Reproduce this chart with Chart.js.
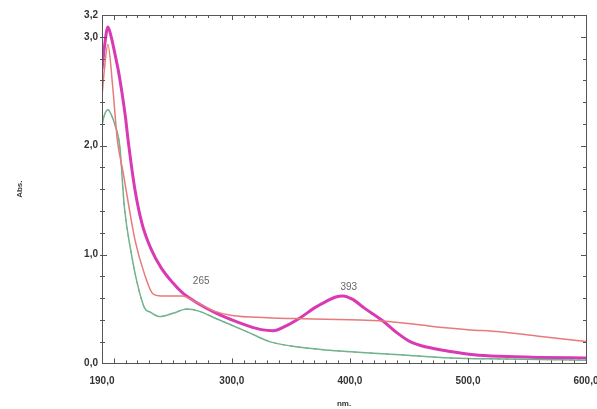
<!DOCTYPE html>
<html>
<head>
<meta charset="utf-8">
<script src="https://cdn.jsdelivr.net/npm/chart.js@4.4.1/dist/chart.umd.min.js"></script>
<style>
html,body{margin:0;padding:0;background:#fff;}
#wrap{width:597px;height:409px;position:relative;}
</style>
</head>
<body>
<div id="wrap"><canvas id="c" width="597" height="409"></canvas></div>
<script>
// wavelengths (nm) and absorbance values
const magentaNm  = [190, 192, 195, 198, 201, 204, 207, 210, 212, 218, 224, 232, 240, 250, 258, 270, 287, 300, 315, 325, 335, 345, 358, 370, 380, 388, 394, 402, 412, 428, 440, 451, 465, 485, 505, 527, 560, 600];
const magentaAbs = [2.70, 2.90, 3.09, 2.99, 2.84, 2.68, 2.48, 2.25, 2.06, 1.59, 1.28, 1.04, 0.88, 0.74, 0.65, 0.56, 0.46, 0.40, 0.34, 0.31, 0.30, 0.34, 0.42, 0.51, 0.57, 0.61, 0.62, 0.59, 0.51, 0.39, 0.28, 0.20, 0.15, 0.11, 0.08, 0.065, 0.055, 0.05];

const redNm  = [190, 192, 195, 199, 203, 208, 212, 218, 226, 233, 240, 258, 270, 285, 300, 330, 360, 400, 428, 470, 500, 527, 560, 600];
const redAbs = [2.45, 2.70, 2.93, 2.55, 2.05, 1.75, 1.49, 1.13, 0.82, 0.64, 0.62, 0.62, 0.56, 0.48, 0.44, 0.42, 0.41, 0.40, 0.39, 0.34, 0.31, 0.29, 0.25, 0.20];

const greenNm  = [190, 192, 195, 198, 201, 205, 209, 215, 220, 226, 231, 239, 250, 262, 272, 287, 300, 315, 332, 350, 383, 410, 442, 485, 530, 600];
const greenAbs = [2.19, 2.28, 2.33, 2.28, 2.19, 2.00, 1.43, 1.00, 0.73, 0.51, 0.47, 0.43, 0.46, 0.50, 0.48, 0.41, 0.35, 0.28, 0.20, 0.16, 0.12, 0.10, 0.08, 0.05, 0.04, 0.03];

const xMajorTicks = [190, 300, 400, 500, 600];
const xLabels = ['190,0', '300,0', '400,0', '500,0', '600,0'];
const yLabelValues = [0, 1, 2, 3, 3.2];
const yLabels = ['0,0', '1,0', '2,0', '3,0', '3,2'];
const peakLabels = [{nm: 274, abs: 0.75, text: '265'}, {nm: 399, abs: 0.70, text: '393'}];

function pts(xs, ys){ return xs.map((x,i)=>({x:x, y:ys[i]})); }

const frameColor = '#555';

const framePlugin = {
  id: 'frame',
  afterDatasetsDraw(chart){
    const ctx = chart.ctx, a = chart.chartArea;
    const xs = chart.scales.x, ys = chart.scales.y;
    ctx.save();
    ctx.strokeStyle = frameColor;
    ctx.lineWidth = 1;
    ctx.beginPath();
    for (let v = 200; v < 600; v += 10) {
      const px = Math.round(xs.getPixelForValue(v)) + 0.5;
      const big = (v % 100 === 0) ? 5 : 3;
      ctx.moveTo(px, a.bottom); ctx.lineTo(px, a.bottom - big);
      ctx.moveTo(px, a.top); ctx.lineTo(px, a.top + big);
    }
    for (let i = 1; i < 16; i++) {
      const v = i * 0.2;
      const py = Math.round(ys.getPixelForValue(v)) + 0.5;
      const big = (i % 5 === 0) ? 5 : 3;
      ctx.moveTo(a.left - 2, py); ctx.lineTo(a.left + big, py);
      ctx.moveTo(a.right, py); ctx.lineTo(a.right - big, py);
    }
    ctx.stroke();
    ctx.strokeRect(Math.round(a.left)+0.5, Math.round(a.top)+0.5, Math.round(a.right-a.left), Math.round(a.bottom-a.top));
    ctx.fillStyle = '#666';
    ctx.font = '10px "Liberation Sans", Arial, sans-serif';
    ctx.textAlign = 'center';
    ctx.textBaseline = 'middle';
    peakLabels.forEach(p => {
      ctx.fillText(p.text, xs.getPixelForValue(p.nm), ys.getPixelForValue(p.abs));
    });
    ctx.restore();
  }
};

const lineBase = { pointRadius: 0, cubicInterpolationMode: 'monotone' };

new Chart(document.getElementById('c'), {
  type: 'line',
  data: {
    datasets: [
      Object.assign({ data: pts(redNm, redAbs), borderColor: '#e77a7a', borderWidth: 1.5 }, lineBase),
      Object.assign({ data: pts(greenNm, greenAbs), borderColor: '#6fb48c', borderWidth: 1.5 }, lineBase),
      Object.assign({ data: pts(greenNm, greenAbs), borderColor: 'rgba(70,70,70,0.6)', borderWidth: 1, borderDash: [3,5] }, lineBase),
      Object.assign({ data: pts(magentaNm, magentaAbs), borderColor: '#d93ab4', borderWidth: 3 }, lineBase),
      Object.assign({ data: pts(magentaNm, magentaAbs), borderColor: 'rgba(90,30,110,0.8)', borderWidth: 1, borderDash: [4,3] }, lineBase)
    ]
  },
  options: {
    responsive: false,
    animation: false,
    events: [],
    layout: { padding: { left: 15, right: 11, top: 15, bottom: 0 } },
    plugins: { legend: { display: false }, tooltip: { enabled: false } },
    scales: {
      x: {
        type: 'linear', min: 190, max: 600,
        afterBuildTicks(s){ s.ticks = xMajorTicks.map(v => ({value: v})); },
        afterFit(s){ s.paddingRight = 0; s.paddingLeft = 0; },
        grid: { display: false, drawTicks: false },
        border: { display: false },
        ticks: {
          autoSkip: false, maxRotation: 0, padding: 12,
          color: '#333', font: { family: '"Liberation Sans", Arial, sans-serif', size: 10, weight: 'bold' },
          callback(v){ const i = xMajorTicks.indexOf(v); return i >= 0 ? xLabels[i] : ''; }
        },
        title: { display: true, text: 'nm.', color: '#333', padding: { top: 0, bottom: 0 },
          font: { family: '"Liberation Sans", Arial, sans-serif', size: 8, weight: 'bold' } }
      },
      y: {
        min: 0, max: 3.2,
        afterBuildTicks(s){ s.ticks = yLabelValues.map(v => ({value: v})); },
        afterFit(s){ s.width = 87; s.paddingTop = 0; s.paddingBottom = 0; },
        grid: { display: false, drawTicks: false },
        border: { display: false },
        ticks: {
          autoSkip: false, padding: 4,
          color: '#333', font: { family: '"Liberation Sans", Arial, sans-serif', size: 10, weight: 'bold' },
          callback(v){ const i = yLabelValues.findIndex(t => Math.abs(t - v) < 1e-6); return i >= 0 ? yLabels[i] : ''; }
        },
        title: { display: true, text: 'Abs.', color: '#333', padding: { top: 0, bottom: 0 },
          font: { family: '"Liberation Sans", Arial, sans-serif', size: 8, weight: 'bold' } }
      }
    }
  },
  plugins: [framePlugin]
});
</script>
</body>
</html>
